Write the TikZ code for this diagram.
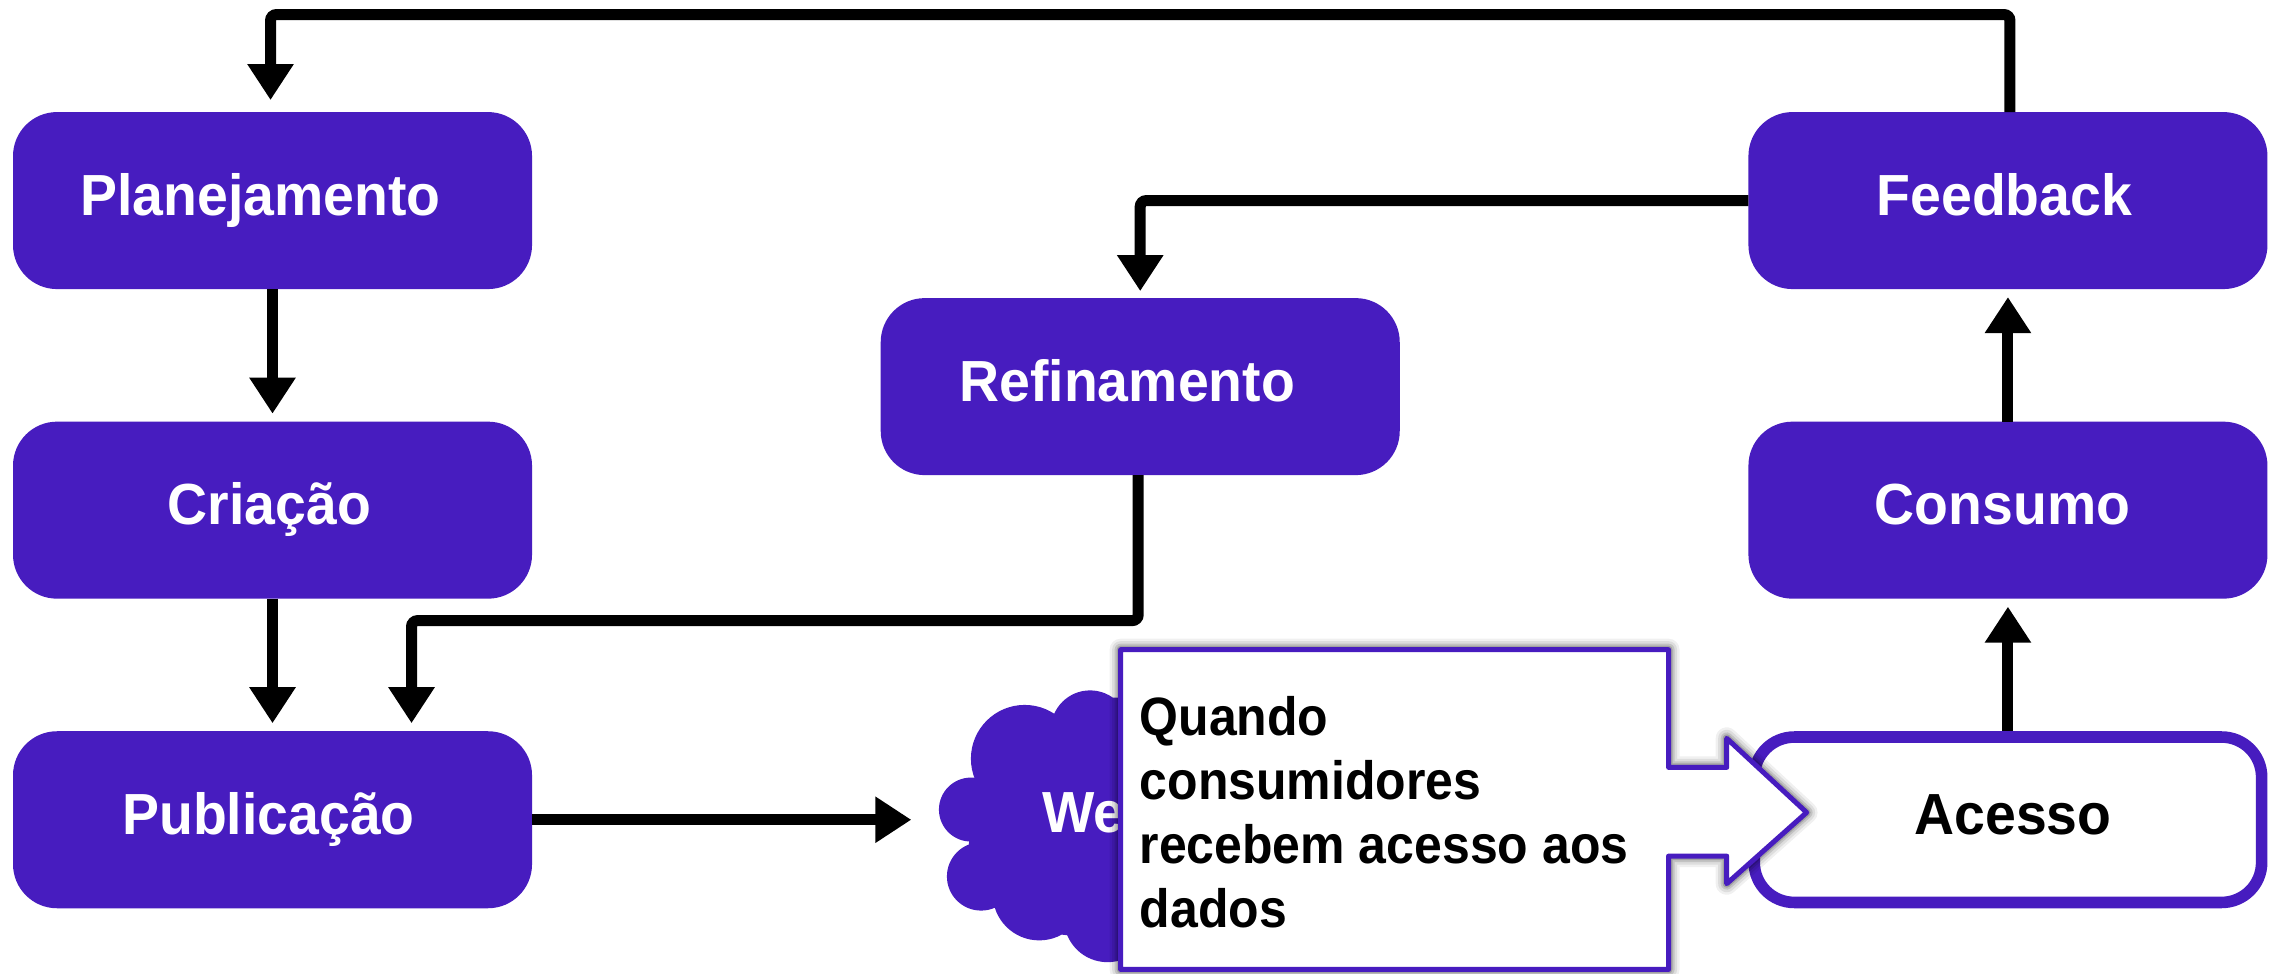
\documentclass[tikz,border=0pt]{standalone}
\usepackage{fontspec}
\setmainfont{Liberation Sans}[BoldFont={Liberation Sans Bold},FakeStretch=0.955]
\newfontfamily\notefont{Liberation Sans}[BoldFont={Liberation Sans Bold},FakeStretch=0.925]
\usetikzlibrary{arrows.meta}
\definecolor{roxo}{HTML}{471CBF}
\tikzset{
  x=1.4534pt,y=-1.4534pt,
  box/.style={rectangle,rounded corners=44pt,fill=roxo,text=white,outer sep=0pt,inner sep=0pt,
    minimum width=519pt,minimum height=177pt,text height=29pt,text depth=0pt,
    font=\fontsize{58}{64}\selectfont\bfseries},
  openbox/.style={box,draw=roxo,fill=white,text=black,line width=11.6pt,minimum width=507.4pt,minimum height=165.4pt,rounded corners=40pt},
  flow/.style={line width=11pt,rounded corners=6pt,-{Triangle[width=44pt,length=36pt]},shorten >=8pt},
  calloutline/.style={draw=roxo,fill=white,line width=5pt,line join=round},
}
\begin{document}
\begin{tikzpicture}
\useasboundingbox (0,0) rectangle (1568,669.45);
\fill[white] (0,0) rectangle (1568,669.45);
% Flow boxes
\node[box] (plan) at (187.5,138) {\kern-24pt Planejamento};
\node[box] (cria) at (187.5,351) {\kern-6pt Criação};
\node[box] (pub) at (187.5,564) {\kern-8pt Publicação};
\node[box] (ref) at (784.5,266) {\kern-26pt Refinamento};
\node[box] (feed) at (1381.5,138) {\kern-7pt Feedback};
\node[box] (cons) at (1381.5,351) {\kern-11pt Consumo};
\node[openbox] (ace) at (1381.5,564) {\kern10pt Acesso};
% Cloud
\fill[roxo] (705,522) circle (37) (750,502) circle (27) (668,557) circle (22)
  (675,603) circle (23.5) (715,615) circle (32) (762,632) circle (30)
  (670,540) -- (740,480) -- (800,480) -- (800,650) -- (700,640) -- (665,600) -- cycle;
\node[font=\fontsize{58}{64}\selectfont\bfseries,text=white,anchor=base west,inner sep=0pt] (web) at (717,573) {Web};
% Connectors
\coordinate (toproute) at (800,10);
\coordinate (midroute) at (500,427);
\coordinate (cloudin) at (627,564);
\draw[flow,shorten >=12pt] ([xshift=2pt]feed.north) |- (toproute) -| ([xshift=-2pt]plan.north);
\draw[flow,shorten >=7pt] (feed.west) -| (ref.north);
\draw[flow] (plan.south) -- (cria.north);
\draw[flow] (cria.south) -- (pub.north);
\draw[flow] ([xshift=-2pt]ref.south) |- (midroute) -| ([xshift=139pt]pub.north);
\draw[flow,shorten >=0pt] (pub.east) -- (cloudin);
\draw[flow,shorten <=5.8pt] (ace.north) -- (cons.south);
\draw[flow] (cons.north) -- (feed.south);
% Callout
\def\calloutpath{(771,447) -- (1148,447) -- (1148,528) -- (1188,528) -- (1188,508) -- (1243,559) -- (1188,608) -- (1188,589) -- (1148,589) -- (1148,667) -- (771,667) -- cycle}
\foreach \w/\o in {22/0.06,17/0.08,12/0.12,8/0.16}{
  \draw[black,line width=\w pt,draw opacity=\o,line join=round] \calloutpath;
}
\draw[calloutline] \calloutpath;
\node[anchor=north west,inner sep=0pt,align=left,text=black,font=\fontsize{54}{64}\selectfont\notefont\bfseries] (note) at (784,479)
  {Quando\\consumidores\\recebem acesso aos\\dados};
\end{tikzpicture}
\end{document}
